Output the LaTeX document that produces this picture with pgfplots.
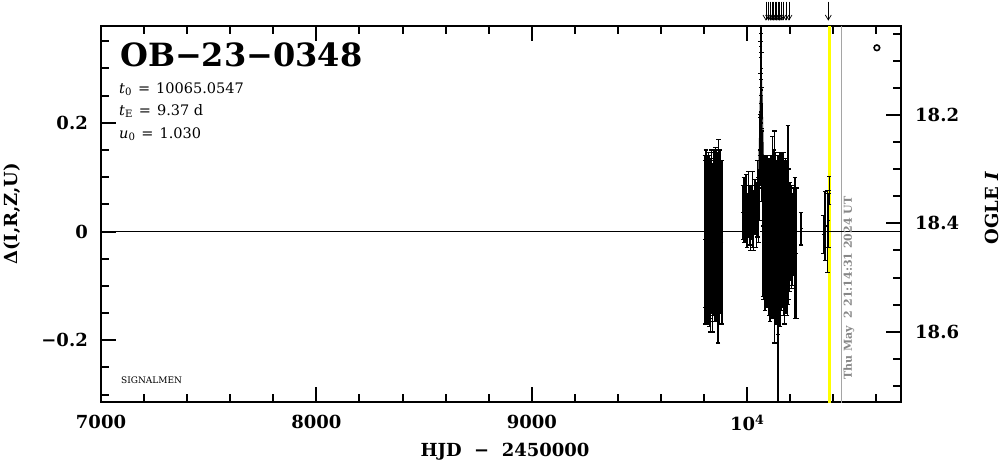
\documentclass[border=0pt]{standalone}
\usepackage{fontspec}
\setmainfont{DejaVu Serif}
\usepackage{pgfplots}
\pgfplotsset{compat=1.18}
\usepackage{pgfplotstable}
\usetikzlibrary{arrows.meta}
\definecolor{stampgray}{RGB}{135,135,135}
\definecolor{linegray}{RGB}{165,165,165}
\definecolor{markyellow}{RGB}{255,255,0}

% photometry: HJD-2450000, Delta, error
\pgfplotstableread{
x y e
9803 -0.015 0.155
9805 0.000 0.140
9807 -0.020 0.150
9808 -0.010 0.160
9810 0.005 0.135
9812 -0.025 0.145
9814 -0.015 0.150
9816 0.010 0.130
9818 -0.030 0.140
9820 -0.005 0.150
9822 0.000 0.120
9824 -0.020 0.155
9826 -0.010 0.150
9828 0.005 0.125
9830 -0.025 0.160
9832 -0.010 0.140
9835 0.015 0.135
9838 -0.020 0.145
9840 -0.035 0.150
9843 -0.005 0.150
9846 0.010 0.140
9849 -0.015 0.150
9852 0.020 0.135
9855 -0.025 0.140
9858 0.000 0.150
9861 -0.010 0.145
9864 -0.030 0.175
9867 0.015 0.155
9870 -0.020 0.150
9874 0.005 0.145
9878 -0.010 0.140
9882 -0.020 0.150
9980 0.035 0.050
9984 0.040 0.060
9990 0.030 0.050
9995 0.045 0.060
10000 0.020 0.050
10005 0.050 0.060
10010 0.030 0.055
10015 0.025 0.060
10020 0.035 0.050
10025 0.040 0.070
10030 0.020 0.055
10036 0.045 0.050
10042 0.030 0.060
10048 0.060 0.070
10053 0.040 0.060
10058 0.080 0.060
10060 0.150 0.065
10061 0.220 0.070
10062 0.280 0.070
10063 0.320 0.070
10064 0.340 0.060
10065 0.300 0.065
10066 0.260 0.070
10067 0.200 0.065
10068 0.120 0.065
10070 0.060 0.060
10073 0.010 0.130
10076 0.000 0.125
10079 0.015 0.125
10082 -0.005 0.140
10085 0.010 0.125
10088 0.005 0.135
10091 -0.010 0.130
10094 0.020 0.120
10097 0.000 0.135
10100 -0.015 0.140
10103 0.010 0.125
10106 -0.020 0.145
10109 0.000 0.140
10112 0.015 0.120
10115 -0.010 0.150
10118 0.010 0.165
10121 -0.015 0.145
10124 0.000 0.150
10127 -0.010 0.195
10130 0.005 0.140
10133 -0.020 0.150
10136 0.010 0.115
10139 -0.025 0.140
10142 -0.030 0.160
10144 -0.120 0.260
10147 -0.020 0.150
10150 0.005 0.140
10153 -0.015 0.160
10156 0.010 0.135
10159 0.000 0.145
10162 -0.010 0.130
10165 0.015 0.130
10168 -0.005 0.150
10171 0.010 0.120
10174 -0.020 0.150
10177 0.005 0.130
10180 -0.010 0.140
10183 0.000 0.125
10186 -0.015 0.140
10189 0.030 0.165
10192 -0.005 0.120
10196 -0.010 0.100
10200 0.000 0.090
10205 -0.010 0.095
10210 -0.015 0.085
10215 0.000 0.080
10222 -0.030 0.130
10228 -0.040 0.120
10250 0.005 0.030
10355 -0.005 0.035
10362 0.010 0.064
10372 0.000 0.075
10378 0.020 0.050
10381 0.075 0.026
}\photdata

% off-scale arrows at the top
\pgfplotstableread{
x y
10087 0.423
10099 0.423
10108 0.423
10115 0.423
10122 0.423
10129 0.423
10136 0.423
10143 0.423
10150 0.423
10157 0.423
10166 0.423
10180 0.423
10194 0.423
10376.5 0.423
}\arrowdata

\begin{document}
\begin{tikzpicture}
\useasboundingbox (0,0) rectangle (1004pt,459pt);
\pgfplotsset{
  common/.style={
    at={(101pt,57pt)}, anchor=south west,
    scale only axis, width=800pt, height=376pt,
    xmin=7000, xmax=10714,
    scaled x ticks=false, scaled y ticks=false,
    axis line style={line width=2.2pt},
    tick style={line width=2pt, black},
    major tick length=15pt, minor tick length=8pt,
    tick label style={font=\fontsize{18}{20}\selectfont\bfseries},
    label style={font=\fontsize{18}{20}\selectfont\bfseries},
  }
}
% main axis: Delta(I,R,Z,U)
\begin{axis}[common,
  ymin=-0.3137, ymax=0.3781,
  xtick={7000,8000,9000,10000},
  xticklabels={7000,8000,9000,10\textsuperscript{4}},
  minor xtick={7200,7400,7600,7800,8200,8400,8600,8800,9200,9400,9600,9800,10200,10400,10600},
  xtick pos=both,
  ytick={-0.2,0,0.2},
  yticklabels={−0.2,0,0.2},
  minor ytick={-0.3,-0.25,-0.15,-0.1,-0.05,0.05,0.1,0.15,0.25,0.3,0.35},
  ytick pos=left,
  xticklabel style={inner sep=0pt, anchor=north, yshift=-13pt},
  yticklabel style={inner sep=0pt, anchor=east, xshift=-13pt},
  xlabel={HJD\ \ −\ \ 2450000},
  xlabel style={at={(axis description cs:0.505,-0.109)}, anchor=north, inner sep=0pt},
  ylabel={Δ(I,R,Z,U)},
  ylabel style={at={(axis description cs:-0.111,0.5)}, anchor=center, rotate=0, inner sep=0pt},
]
\addplot[markyellow, line width=3pt] coordinates {(10383,-0.35) (10383,0.40)};
\addplot[linegray, line width=1pt] coordinates {(10439,-0.35) (10439,0.40)};
% model curve
\addplot[black, line width=0.8pt] coordinates {
(7065,0) (10015,0) (10035,0.011) (10045,0.039) (10050,0.073) (10055,0.140)
(10060,0.240) (10065,0.300) (10070,0.240) (10075,0.140) (10080,0.073)
(10085,0.039) (10095,0.011) (10115,0) (10714,0)};
% data
\addplot[black, only marks, mark=-, mark size=1.5pt, line width=1.4pt,
  error bars/.cd, y dir=both, y explicit,
  error bar style={line width=1.5pt},
  error mark options={rotate=90, mark size=2.2pt, line width=1.2pt}]
  table[x=x, y=y, y error=e] {\photdata};
\addplot[black, only marks, mark=o, mark size=2.8pt, line width=1.6pt] coordinates {(10602,0.338)};
\end{axis}
% right axis: OGLE I
\begin{axis}[common,
  hide x axis,
  axis y line*=right,
  ymin=18.0357, ymax=18.7298, y dir=reverse,
  ytick={18.2,18.4,18.6},
  yticklabels={18.2,18.4,18.6},
  minor ytick={18.05,18.1,18.15,18.25,18.3,18.35,18.45,18.5,18.55,18.65,18.7},
  yticklabel style={inner sep=0pt, anchor=west, xshift=14pt},
  ylabel={OGLE \textit{I}},
  ylabel style={at={(axis description cs:1.114,0.516)}, anchor=center, rotate=0, inner sep=0pt},
]
\addplot[draw=none] coordinates {(8000,18.4)};
\end{axis}
% overlay for arrows above the frame
\begin{axis}[common, hide axis, clip=false, ymin=-0.3137, ymax=0.3781]
\addplot[black, line width=0.7pt, -{Straight Barb[length=5pt,width=6pt]},
  quiver={u=0, v=-0.035}] table[x=x, y=y] {\arrowdata};
\end{axis}
% texts
\node[anchor=base west, inner sep=0pt, font=\fontsize{32}{34}\selectfont\bfseries] at (120pt,392pt) {OB−23−0348};
\node[anchor=base west, inner sep=0pt, font=\fontsize{14.5}{16}\selectfont] at (119pt,366pt) {\textit{t}\textsubscript{0}\hspace{6pt}=\hspace{6pt}10065.0547};
\node[anchor=base west, inner sep=0pt, font=\fontsize{14.5}{16}\selectfont] at (119pt,344pt) {\textit{t}\textsubscript{E}\hspace{6pt}=\hspace{6pt}9.37 d};
\node[anchor=base west, inner sep=0pt, font=\fontsize{14.5}{16}\selectfont] at (119pt,321pt) {\textit{u}\textsubscript{0}\hspace{6pt}=\hspace{6pt}1.030};
\node[anchor=base west, inner sep=0pt, font=\fontsize{9}{10}\selectfont] at (121pt,76pt) {SIGNALMEN};
\node[rotate=90, inner sep=0pt, text=stampgray, font=\fontsize{11}{12}\selectfont\bfseries] at (849pt,171pt) {Thu May\ \ 2 21:14:31 2024 UT};
\end{tikzpicture}
\end{document}
